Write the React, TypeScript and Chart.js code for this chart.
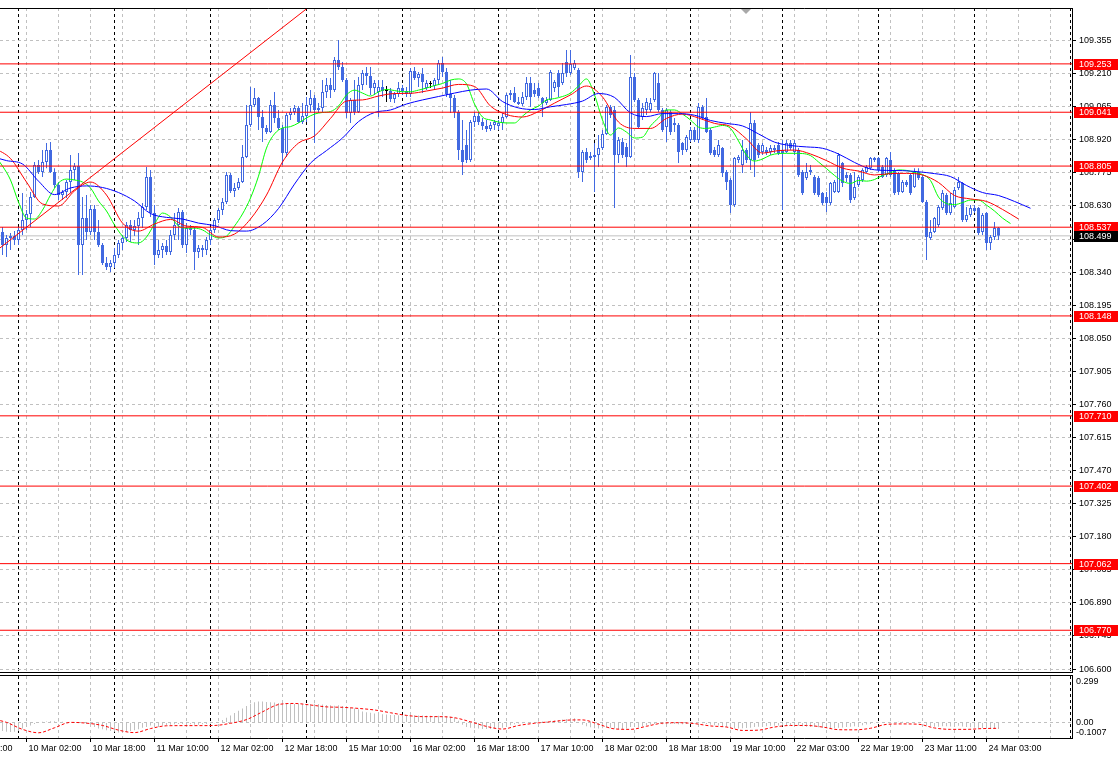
import React, { useEffect, useRef } from 'react';
import { Chart, registerables } from 'chart.js';

Chart.register(...registerables);

// ---------- time axis (H1 candles, index 0 = 9 Mar 20:00) ----------
const timeTickIdx = [-10, 6, 22, 38, 54, 70, 86, 102, 118, 134, 150, 166, 182, 198, 214, 230, 246];
const timeTickLabels = [
  '9 Mar 10:00', '10 Mar 02:00', '10 Mar 18:00', '11 Mar 10:00', '12 Mar 02:00', '12 Mar 18:00',
  '15 Mar 10:00', '16 Mar 02:00', '16 Mar 18:00', '17 Mar 10:00', '18 Mar 02:00', '18 Mar 18:00',
  '19 Mar 10:00', '22 Mar 03:00', '22 Mar 19:00', '23 Mar 11:00', '24 Mar 03:00',
];
const daySeparatorIdx = [4, 28, 52, 76, 100, 124, 148, 172, 195, 219, 243, 267];

// ---------- price axis ----------
const priceTicks = [
  106.6, 106.745, 106.89, 107.035, 107.18, 107.325, 107.47, 107.615, 107.76, 107.905,
  108.05, 108.195, 108.34, 108.485, 108.63, 108.775, 108.92, 109.065, 109.21, 109.355,
];
const levelPrices = [109.253, 109.041, 108.805, 108.537, 108.148, 107.71, 107.402, 107.062, 106.77];
const bidPrice = 108.499;
const trendIdx = [-1, 80];
const trendPrice = [108.441, 109.549];

// ---------- candles ----------
const openP = [
  108.516, 108.459, 108.490, 108.498, 108.481, 108.525, 108.569, 108.595, 108.669, 108.810,
  108.779, 108.823, 108.875, 108.779, 108.722, 108.678, 108.691, 108.735, 108.788, 108.805,
  108.459, 108.577, 108.516, 108.617, 108.516, 108.459, 108.380, 108.363, 108.380, 108.415,
  108.468, 108.490, 108.547, 108.525, 108.542, 108.577, 108.626, 108.757, 108.599, 108.415,
  108.437, 108.455, 108.428, 108.503, 108.547, 108.604, 108.459, 108.533, 108.525, 108.428,
  108.446, 108.437, 108.481, 108.525, 108.569, 108.612, 108.647, 108.766, 108.696, 108.709,
  108.735, 108.845, 108.985, 109.073, 109.103, 109.020, 108.972, 108.954, 109.073, 109.016,
  108.972, 108.862, 109.029, 109.042, 109.060, 108.998, 109.024, 109.073, 109.103, 109.051,
  109.060, 109.130, 109.160, 109.138, 109.270, 109.239, 109.182, 109.038, 109.095, 109.042,
  109.160, 109.213, 109.200, 109.147, 109.130, 109.152, 109.134, 109.134, 109.099, 109.121,
  109.147, 109.134, 109.121, 109.222, 109.191, 109.209, 109.147, 109.165, 109.156, 109.182,
  109.257, 109.217, 109.121, 109.103, 109.042, 108.875, 108.897, 108.832, 108.998, 109.024,
  108.998, 108.981, 108.967, 108.985, 108.981, 108.994, 109.020, 109.117, 109.125, 109.086,
  109.077, 109.108, 109.169, 109.138, 109.147, 109.103, 109.081, 109.095, 109.147, 109.213,
  109.169, 109.261, 109.213, 109.235, 109.226, 108.779, 108.867, 108.840, 108.845, 108.853,
  108.884, 108.946, 109.064, 109.051, 108.853, 108.910, 108.889, 108.845, 109.195, 109.095,
  109.020, 109.051, 109.051, 109.095, 109.169, 109.051, 108.976, 109.042, 108.994, 108.985,
  108.906, 108.875, 108.919, 108.963, 108.919, 109.064, 109.020, 108.963, 108.875, 108.853,
  108.884, 108.779, 108.744, 108.634, 108.832, 108.810, 108.875, 108.832, 108.994, 108.897,
  108.867, 108.875, 108.867, 108.875, 108.897, 108.875, 108.867, 108.906, 108.867, 108.875,
  108.779, 108.753, 108.779, 108.757, 108.753, 108.687, 108.669, 108.643, 108.691, 108.691,
  108.818, 108.766, 108.766, 108.665, 108.722, 108.744, 108.779, 108.796, 108.840, 108.840,
  108.801, 108.766, 108.832, 108.788, 108.775, 108.691, 108.735, 108.766, 108.713, 108.779,
  108.757, 108.647, 108.490, 108.516, 108.547, 108.621, 108.678, 108.599, 108.626, 108.709,
  108.731, 108.569, 108.590, 108.621, 108.621, 108.516, 108.599, 108.468, 108.494, 108.533,
];
const highP = [
  108.538, 108.503, 108.512, 108.520, 108.538, 108.687, 108.612, 108.691, 108.823, 108.832,
  108.875, 108.906, 108.910, 108.796, 108.735, 108.700, 108.744, 108.853, 108.818, 108.862,
  108.669, 108.678, 108.634, 108.634, 108.569, 108.468, 108.406, 108.393, 108.446, 108.481,
  108.503, 108.560, 108.569, 108.569, 108.604, 108.643, 108.801, 108.788, 108.634, 108.481,
  108.468, 108.481, 108.525, 108.599, 108.621, 108.612, 108.555, 108.547, 108.538, 108.459,
  108.459, 108.494, 108.538, 108.577, 108.621, 108.665, 108.779, 108.775, 108.731, 108.753,
  108.897, 109.073, 109.152, 109.147, 109.108, 109.051, 108.985, 109.095, 109.130, 109.051,
  108.985, 109.038, 109.060, 109.073, 109.068, 109.081, 109.108, 109.138, 109.117, 109.081,
  109.182, 109.191, 109.191, 109.283, 109.358, 109.261, 109.191, 109.103, 109.182, 109.195,
  109.226, 109.239, 109.239, 109.182, 109.182, 109.182, 109.156, 109.147, 109.130, 109.174,
  109.160, 109.152, 109.235, 109.239, 109.217, 109.235, 109.182, 109.178, 109.191, 109.270,
  109.283, 109.235, 109.182, 109.117, 109.051, 109.007, 108.963, 109.007, 109.042, 109.042,
  109.016, 109.007, 108.998, 109.007, 109.007, 109.038, 109.125, 109.138, 109.152, 109.108,
  109.130, 109.195, 109.195, 109.169, 109.169, 109.108, 109.108, 109.226, 109.182, 109.226,
  109.257, 109.314, 109.314, 109.270, 109.235, 108.875, 108.884, 108.867, 108.906, 108.941,
  108.963, 109.073, 109.073, 109.068, 108.932, 108.928, 108.906, 109.292, 109.213, 109.103,
  109.081, 109.103, 109.103, 109.217, 109.213, 109.060, 109.060, 109.051, 109.016, 108.994,
  108.910, 108.941, 108.976, 108.976, 109.081, 109.073, 109.103, 108.972, 108.889, 108.919,
  108.889, 108.788, 108.753, 108.845, 108.853, 108.919, 108.884, 109.042, 109.007, 108.906,
  108.906, 108.889, 108.897, 108.897, 108.910, 108.919, 108.919, 108.919, 108.919, 108.884,
  108.788, 108.818, 108.810, 108.766, 108.761, 108.691, 108.691, 108.735, 108.744, 108.862,
  108.823, 108.779, 108.775, 108.779, 108.766, 108.796, 108.810, 108.845, 108.845, 108.845,
  108.810, 108.845, 108.867, 108.796, 108.779, 108.744, 108.744, 108.775, 108.796, 108.796,
  108.766, 108.656, 108.569, 108.582, 108.634, 108.700, 108.687, 108.687, 108.713, 108.757,
  108.735, 108.626, 108.634, 108.634, 108.626, 108.599, 108.604, 108.503, 108.560, 108.538,
];
const lowP = [
  108.415, 108.406, 108.437, 108.459, 108.459, 108.503, 108.525, 108.538, 108.665, 108.770,
  108.757, 108.796, 108.775, 108.709, 108.656, 108.656, 108.665, 108.687, 108.744, 108.327,
  108.327, 108.481, 108.503, 108.481, 108.450, 108.371, 108.349, 108.341, 108.358, 108.402,
  108.437, 108.472, 108.472, 108.498, 108.459, 108.533, 108.612, 108.582, 108.371, 108.402,
  108.402, 108.415, 108.415, 108.481, 108.481, 108.446, 108.424, 108.503, 108.349, 108.402,
  108.406, 108.415, 108.459, 108.512, 108.555, 108.590, 108.639, 108.687, 108.669, 108.700,
  108.731, 108.840, 108.976, 109.064, 108.963, 108.910, 108.946, 108.950, 108.994, 108.963,
  108.810, 108.845, 109.007, 109.029, 108.994, 108.989, 108.998, 109.042, 108.906, 109.038,
  109.042, 109.103, 109.103, 109.130, 109.226, 109.174, 109.016, 108.994, 109.029, 109.038,
  109.138, 109.160, 109.117, 109.117, 109.020, 109.108, 109.086, 109.086, 109.081, 109.108,
  109.117, 109.108, 109.108, 109.182, 109.152, 109.125, 109.138, 109.147, 109.138, 109.160,
  109.195, 109.108, 109.038, 109.016, 108.832, 108.766, 108.818, 108.823, 108.976, 108.985,
  108.963, 108.954, 108.959, 108.963, 108.963, 108.963, 109.016, 109.095, 109.081, 109.073,
  109.068, 109.095, 109.064, 109.108, 109.103, 109.020, 109.073, 109.090, 109.130, 109.108,
  109.160, 109.195, 109.204, 109.226, 108.753, 108.735, 108.818, 108.832, 108.691, 108.801,
  108.875, 108.941, 109.016, 108.621, 108.818, 108.840, 108.801, 108.840, 109.086, 108.972,
  109.007, 109.029, 109.042, 109.086, 109.042, 108.954, 108.910, 108.941, 108.954, 108.818,
  108.853, 108.867, 108.910, 108.910, 108.906, 109.007, 108.950, 108.853, 108.845, 108.845,
  108.757, 108.700, 108.599, 108.626, 108.818, 108.775, 108.818, 108.788, 108.757, 108.840,
  108.853, 108.853, 108.853, 108.862, 108.853, 108.612, 108.862, 108.875, 108.853, 108.757,
  108.678, 108.744, 108.766, 108.678, 108.669, 108.634, 108.604, 108.634, 108.687, 108.687,
  108.713, 108.735, 108.643, 108.656, 108.713, 108.735, 108.775, 108.788, 108.823, 108.779,
  108.753, 108.757, 108.757, 108.678, 108.678, 108.687, 108.713, 108.678, 108.709, 108.744,
  108.643, 108.393, 108.481, 108.512, 108.538, 108.612, 108.590, 108.590, 108.621, 108.700,
  108.560, 108.560, 108.582, 108.599, 108.503, 108.503, 108.437, 108.437, 108.481, 108.481,
];
const closeP = [
  108.459, 108.490, 108.498, 108.481, 108.525, 108.569, 108.595, 108.669, 108.810, 108.779,
  108.823, 108.875, 108.779, 108.722, 108.678, 108.691, 108.735, 108.788, 108.805, 108.459,
  108.577, 108.516, 108.617, 108.516, 108.459, 108.380, 108.363, 108.380, 108.415, 108.468,
  108.490, 108.547, 108.525, 108.542, 108.577, 108.626, 108.757, 108.599, 108.415, 108.437,
  108.455, 108.428, 108.503, 108.547, 108.604, 108.459, 108.533, 108.525, 108.428, 108.446,
  108.437, 108.481, 108.525, 108.569, 108.612, 108.647, 108.766, 108.696, 108.709, 108.735,
  108.845, 108.985, 109.073, 109.103, 109.020, 108.972, 108.954, 109.073, 109.016, 108.972,
  108.862, 109.029, 109.042, 109.060, 108.998, 109.024, 109.073, 109.103, 109.051, 109.060,
  109.130, 109.160, 109.138, 109.270, 109.239, 109.182, 109.038, 109.095, 109.042, 109.160,
  109.213, 109.200, 109.147, 109.169, 109.152, 109.134, 109.134, 109.099, 109.121, 109.147,
  109.134, 109.121, 109.222, 109.191, 109.209, 109.174, 109.169, 109.165, 109.182, 109.257,
  109.217, 109.121, 109.103, 109.042, 108.875, 108.823, 108.832, 108.998, 109.024, 108.998,
  108.981, 108.967, 108.985, 108.998, 108.994, 109.020, 109.117, 109.125, 109.086, 109.077,
  109.108, 109.169, 109.108, 109.121, 109.112, 109.081, 109.095, 109.217, 109.174, 109.152,
  109.213, 109.213, 109.252, 109.257, 108.779, 108.867, 108.832, 108.849, 108.853, 108.884,
  108.946, 109.064, 109.029, 108.853, 108.919, 108.853, 108.845, 109.195, 109.095, 108.976,
  109.060, 109.086, 109.081, 109.213, 109.051, 108.963, 109.051, 108.954, 108.985, 108.867,
  108.875, 108.932, 108.963, 108.919, 109.064, 109.016, 108.954, 108.862, 108.853, 108.897,
  108.775, 108.735, 108.634, 108.840, 108.845, 108.875, 108.832, 108.994, 108.832, 108.853,
  108.897, 108.862, 108.884, 108.884, 108.862, 108.862, 108.906, 108.884, 108.906, 108.766,
  108.687, 108.779, 108.788, 108.687, 108.678, 108.643, 108.643, 108.731, 108.735, 108.853,
  108.731, 108.753, 108.656, 108.713, 108.757, 108.788, 108.801, 108.840, 108.832, 108.788,
  108.757, 108.840, 108.766, 108.687, 108.691, 108.735, 108.722, 108.687, 108.779, 108.753,
  108.647, 108.494, 108.516, 108.577, 108.626, 108.687, 108.599, 108.643, 108.700, 108.735,
  108.569, 108.590, 108.621, 108.608, 108.512, 108.590, 108.468, 108.494, 108.533, 108.499,
];

// ---------- Alligator lines (sampled; index = start + k * step) ----------
const lipsStart = -2;
const lipsStep = 2;
const lipsVals = [
  108.853, 108.805, 108.744, 108.647, 108.577, 108.573, 108.612, 108.678, 108.731, 108.748,
  108.744, 108.735, 108.709, 108.652, 108.608, 108.547, 108.498, 108.472, 108.468, 108.494,
  108.551, 108.599, 108.582, 108.542, 108.533, 108.533, 108.525, 108.503, 108.490, 108.498,
  108.542, 108.595, 108.665, 108.761, 108.884, 108.946, 108.972, 108.978, 108.994, 109.016,
  109.033, 109.040, 109.044, 109.068, 109.117, 109.138, 109.125, 109.112, 109.130, 109.141,
  109.136, 109.131, 109.131, 109.138, 109.147, 109.158, 109.167, 109.182, 109.187, 109.165,
  109.077, 109.020, 109.007, 108.998, 108.994, 108.994, 109.024, 109.051, 109.068, 109.095,
  109.101, 109.110, 109.125, 109.156, 109.187, 109.117, 109.007, 108.941, 108.972, 108.954,
  108.928, 108.932, 108.981, 109.016, 109.051, 109.051, 109.033, 109.007, 108.976, 108.970,
  108.976, 108.983, 108.970, 108.915, 108.853, 108.827, 108.836, 108.853, 108.860, 108.861,
  108.861, 108.860, 108.851, 108.823, 108.794, 108.764, 108.739, 108.729, 108.742, 108.739,
  108.746, 108.764, 108.775, 108.788, 108.786, 108.777, 108.768, 108.742, 108.669, 108.641,
  108.636, 108.645, 108.656, 108.656, 108.634, 108.608, 108.577, 108.553,
];
const teethStart = -2;
const teethStep = 4;
const teethVals = [
  108.884, 108.838, 108.735, 108.639, 108.630, 108.696, 108.735, 108.678, 108.555, 108.520,
  108.551, 108.571, 108.542, 108.536, 108.494, 108.507, 108.573, 108.678, 108.823, 108.906,
  108.937, 109.014, 109.090, 109.095, 109.112, 109.123, 109.124, 109.134, 109.147, 109.163,
  109.154, 109.068, 109.031, 109.020, 109.044, 109.081, 109.117, 109.156, 109.108, 108.998,
  108.970, 108.970, 109.014, 109.033, 109.016, 108.992, 108.979, 108.924, 108.862, 108.873,
  108.875, 108.858, 108.829, 108.796, 108.783, 108.766, 108.772, 108.773, 108.766, 108.733,
  108.676, 108.661, 108.650, 108.615, 108.573,
];
const jawStart = -3;
const jawStep = 4;
const jawVals = [
  108.849, 108.829, 108.814, 108.739, 108.680, 108.709, 108.718, 108.711, 108.689, 108.652,
  108.597, 108.580, 108.573, 108.555, 108.544, 108.522, 108.520, 108.549, 108.619, 108.726,
  108.818, 108.873, 108.928, 109.000, 109.040, 109.051, 109.077, 109.095, 109.110, 109.125,
  109.138, 109.143, 109.088, 109.060, 109.053, 109.065, 109.075, 109.090, 109.123, 109.106,
  109.038, 109.022, 109.035, 109.035, 109.028, 109.005, 108.992, 108.981, 108.946, 108.910,
  108.895, 108.889, 108.883, 108.858, 108.821, 108.792, 108.786, 108.785, 108.780, 108.772,
  108.759, 108.720, 108.689, 108.676, 108.650, 108.620,
];

// ---------- MACD ----------
const macdHist = [
  -0.055, -0.06, -0.062, -0.06, -0.055, -0.04, -0.03, -0.02, -0.01, 0.0,
  0.004, 0.006, 0.008, 0.008, 0.006, 0.004, 0.002, 0.0, -0.002, 0.0,
  0.002, -0.01, -0.02, -0.03, -0.04, -0.045, -0.05, -0.055, -0.06, -0.065,
  -0.065, -0.06, -0.055, -0.05, -0.045, -0.035, -0.03, -0.02, -0.025, -0.03,
  -0.02, -0.018, -0.015, -0.012, -0.01, -0.01, -0.01, -0.012, -0.015, -0.015,
  -0.012, -0.01, -0.008, -0.005, 0.0, 0.015, 0.03, 0.045, 0.06, 0.075,
  0.09, 0.105, 0.12, 0.13, 0.135, 0.135, 0.132, 0.13, 0.128, 0.125,
  0.122, 0.12, 0.12, 0.118, 0.118, 0.115, 0.115, 0.118, 0.12, 0.118,
  0.115, 0.112, 0.11, 0.108, 0.11, 0.105, 0.1, 0.095, 0.09, 0.085,
  0.07, 0.066, 0.062, 0.058, 0.055, 0.052, 0.05, 0.048, 0.047, 0.046,
  0.045, 0.044, 0.046, 0.046, 0.045, 0.044, 0.043, 0.042, 0.041, 0.042,
  0.043, 0.04, 0.036, 0.03, 0.01, -0.015, -0.03, -0.035, -0.038, -0.04,
  -0.042, -0.043, -0.042, -0.04, -0.038, -0.035, -0.025, -0.018, -0.012, -0.008,
  -0.005, 0.0, 0.0, 0.002, 0.005, 0.006, 0.005, 0.01, 0.012, 0.014,
  0.018, 0.022, 0.025, 0.026, 0.0, -0.015, -0.025, -0.032, -0.038, -0.04,
  -0.038, -0.035, -0.035, -0.04, -0.042, -0.042, -0.04, -0.03, -0.028, -0.03,
  -0.025, -0.02, -0.015, -0.01, -0.01, -0.012, -0.012, -0.01, -0.01, -0.012,
  -0.012, -0.01, -0.008, -0.008, -0.005, -0.005, -0.01, -0.015, -0.018, -0.02,
  -0.025, -0.03, -0.038, -0.04, -0.04, -0.038, -0.036, -0.035, -0.03, -0.028,
  -0.026, -0.025, -0.022, -0.022, -0.02, -0.02, -0.02, -0.018, -0.018, -0.02,
  -0.025, -0.028, -0.03, -0.03, -0.032, -0.035, -0.036, -0.038, -0.036, -0.035,
  -0.033, -0.03, -0.028, -0.025, -0.022, -0.018, -0.014, -0.01, -0.006, -0.004,
  -0.002, 0.0, 0.002, 0.003, 0.004, 0.004, 0.003, 0.002, 0.002, 0.0,
  -0.004, -0.018, -0.025, -0.028, -0.028, -0.025, -0.025, -0.026, -0.025, -0.022,
  -0.026, -0.03, -0.032, -0.034, -0.036, -0.036, -0.04, -0.042, -0.042, -0.04,
];
const signalStart = -3;
const signalStep = 4;
const signalVals = [
  0.025, 0.0, -0.045, -0.067, -0.035, 0.0, -0.005, -0.02, -0.05, -0.066,
  -0.04, -0.022, -0.021, -0.021, -0.02, -0.006, 0.018, 0.068, 0.115, 0.122,
  0.112, 0.1, 0.097, 0.09, 0.08, 0.062, 0.045, 0.037, 0.037, 0.03,
  0.004, -0.026, -0.043, -0.02, -0.006, 0.004, 0.014, 0.016, -0.012, -0.042,
  -0.045, -0.025, -0.005, -0.002, -0.008, -0.023, -0.03, -0.052, -0.05, -0.03,
  -0.02, -0.02, -0.03, -0.047, -0.048, -0.038, -0.013, -0.01, -0.012, -0.036,
  -0.045, -0.045, -0.04, -0.038,
];
const oscLabelValues = [0.299, 0, -0.1007];
const oscLabelTexts = ['0.299', '0.00', '-0.1007'];
const oscMax = 0.299;
const oscMin = -0.1007;

// ---------- styling ----------
const FONT = 'Liberation Sans';
const BLUE = '#4169e1';
const GRID = '#c0c0c0';
const X_MIN = -0.625;
const X_MAX = 267.375;
const Y_MIN = 106.587;
const Y_MAX = 109.498;
const gridIdx = Array.from({ length: 33 }, (_, k) => 6 + 8 * k);

Chart.defaults.font.family = FONT;

const sampled = (start: number, step: number, vals: number[]) =>
  vals.map((v, k) => ({ x: start + k * step, y: v }));

const zeroPad = (s: any) => {
  s.paddingLeft = 0; s.paddingRight = 0; s.paddingTop = 0; s.paddingBottom = 0;
};

const gridAxis = (ticks: number[], color: string) => ({
  type: 'linear', min: X_MIN, max: X_MAX, offset: false, position: 'bottom',
  grid: { color, lineWidth: 1, drawTicks: false, offset: false },
  border: { display: false, dash: [3, 3] },
  ticks: { display: false },
  afterBuildTicks: (s: any) => { s.ticks = ticks.map((v) => ({ value: v })); },
  afterFit: (s: any) => { s.height = 0; zeroPad(s); },
});

const mainDecor = {
  id: 'mainDecor',
  afterDraw(chart: any) {
    const { ctx, chartArea: a } = chart;
    const ys = chart.scales.y;
    ctx.save();
    ctx.strokeStyle = '#000';
    ctx.lineWidth = 1;
    ctx.beginPath();
    ctx.moveTo(0, a.top + 0.5); ctx.lineTo(a.right + 1, a.top + 0.5);
    ctx.moveTo(a.right + 0.5, a.top); ctx.lineTo(a.right + 0.5, a.bottom + 1);
    ctx.moveTo(0, a.bottom + 0.5); ctx.lineTo(a.right + 1, a.bottom + 0.5);
    ctx.stroke();
    // chart shift marker
    ctx.fillStyle = '#a8a8a8';
    ctx.beginPath();
    ctx.moveTo(741, a.top + 1); ctx.lineTo(751, a.top + 1); ctx.lineTo(746, a.top + 6);
    ctx.closePath(); ctx.fill();
    // price labels for levels
    ctx.font = `9px "${FONT}"`;
    ctx.textBaseline = 'middle';
    ctx.textAlign = 'left';
    const box = (v: number, bg: string) => {
      const py = Math.round(ys.getPixelForValue(v));
      ctx.fillStyle = bg;
      ctx.fillRect(a.right + 2, py - 5, 44, 11);
      ctx.fillStyle = '#ffffff';
      ctx.fillText(v.toFixed(3), a.right + 7, py + 0.5);
    };
    levelPrices.forEach((v) => box(v, '#ff0000'));
    box(bidPrice, '#000000');
    ctx.restore();
  },
};

const oscDecor = {
  id: 'oscDecor',
  afterDraw(chart: any) {
    const { ctx, chartArea: a } = chart;
    const ys = chart.scales.y;
    ctx.save();
    ctx.strokeStyle = '#000';
    ctx.lineWidth = 1;
    ctx.beginPath();
    ctx.moveTo(0, a.top - 0.5); ctx.lineTo(a.right + 1, a.top - 0.5);
    ctx.moveTo(0, a.bottom + 0.5); ctx.lineTo(a.right + 1, a.bottom + 0.5);
    ctx.moveTo(a.right + 0.5, a.top - 1); ctx.lineTo(a.right + 0.5, a.bottom + 1);
    ctx.stroke();
    ctx.font = `9px "${FONT}"`;
    ctx.fillStyle = '#000';
    ctx.textBaseline = 'middle';
    ctx.textAlign = 'left';
    const offsets = [6, 0, -5.5];
    oscLabelValues.forEach((v, k) => {
      ctx.fillText(oscLabelTexts[k], a.right + 4, ys.getPixelForValue(v) + offsets[k]);
    });
    ctx.restore();
  },
};

function mainConfig(): any {
  const idx = openP.map((_, i) => i);
  const doji = (i: number) => openP[i] === closeP[i];
  const edge = idx.map((i) => (doji(i) ? '#000000' : BLUE));
  const fill = idx.map((i) => (doji(i) ? '#000000' : closeP[i] > openP[i] ? '#ffffff' : BLUE));
  const line = (data: any[], color: string, order: number, extra: any = {}) => ({
    type: 'line', data, borderColor: color, borderWidth: 1, pointRadius: 0, fill: false, order, ...extra,
  });
  const datasets: any[] = [
    line([{ x: X_MIN - 1, y: bidPrice }, { x: X_MAX + 1, y: bidPrice }], GRID, 5),
    {
      type: 'bar', data: idx.map((i) => ({ x: i, y: [lowP[i], highP[i]] })),
      backgroundColor: edge, borderWidth: 0, barThickness: 1, maxBarThickness: 1,
      grouped: false, inflateAmount: 0, order: 4,
    },
    {
      type: 'bar', data: idx.map((i) => ({ x: i, y: [openP[i], closeP[i]] })),
      backgroundColor: fill, borderColor: edge, borderWidth: 1, borderSkipped: false,
      barThickness: 3, maxBarThickness: 3, grouped: false, inflateAmount: 0, minBarLength: 1, order: 3,
    },
    line(sampled(jawStart, jawStep, jawVals), '#0000ff', 2, { cubicInterpolationMode: 'monotone' }),
    line(sampled(teethStart, teethStep, teethVals), '#ff0000', 2, { cubicInterpolationMode: 'monotone' }),
    line(sampled(lipsStart, lipsStep, lipsVals), '#00ff00', 2, { cubicInterpolationMode: 'monotone' }),
    ...levelPrices.map((v) => line([{ x: X_MIN - 1, y: v }, { x: X_MAX + 1, y: v }], '#ff0000', 0)),
    line(trendIdx.map((x, k) => ({ x, y: trendPrice[k] })), '#ff0000', 0),
  ];
  return {
    type: 'bar',
    data: { datasets },
    plugins: [mainDecor],
    options: {
      responsive: false, maintainAspectRatio: false, animation: false, devicePixelRatio: 1,
      events: [],
      layout: { padding: { top: 8, bottom: 4, left: 0, right: 0 }, autoPadding: false },
      plugins: { legend: { display: false }, tooltip: { enabled: false } },
      scales: {
        x: gridAxis(gridIdx, GRID),
        xs: gridAxis(daySeparatorIdx, '#000000'),
        y: {
          type: 'linear', position: 'right', min: Y_MIN, max: Y_MAX,
          grid: { color: GRID, lineWidth: 1, drawTicks: true, tickLength: 4, tickColor: '#000', tickWidth: 1 },
          border: { display: false, dash: [3, 3] },
          ticks: {
            color: '#000', font: { family: FONT, size: 9 }, padding: 3, autoSkip: false,
            callback: (v: number) => v.toFixed(3),
          },
          afterBuildTicks: (s: any) => { s.ticks = priceTicks.map((v) => ({ value: v })); },
          afterFit: (s: any) => { s.width = 48; zeroPad(s); },
        },
      },
    },
  };
}

function oscConfig(): any {
  const idx = macdHist.map((_, i) => i);
  return {
    type: 'bar',
    data: {
      datasets: [
        {
          type: 'bar', data: idx.map((i) => ({ x: i, y: macdHist[i] })), backgroundColor: GRID,
          borderWidth: 0, barThickness: 1, maxBarThickness: 1, grouped: false, inflateAmount: 0, order: 2,
        },
        {
          type: 'line', data: sampled(signalStart, signalStep, signalVals), borderColor: '#ff0000',
          borderWidth: 1, borderDash: [3, 2], pointRadius: 0, fill: false, order: 1,
          cubicInterpolationMode: 'monotone',
        },
      ],
    },
    plugins: [oscDecor],
    options: {
      responsive: false, maintainAspectRatio: false, animation: false, devicePixelRatio: 1,
      events: [],
      layout: { padding: { top: 2, bottom: 0, left: 0, right: 0 }, autoPadding: false },
      plugins: { legend: { display: false }, tooltip: { enabled: false } },
      scales: {
        x: {
          type: 'linear', min: X_MIN, max: X_MAX, offset: false, position: 'bottom',
          grid: { drawOnChartArea: false, drawTicks: true, tickLength: 4, tickColor: '#000', offset: false },
          border: { display: false },
          ticks: {
            display: true, align: 'start', labelOffset: 2, padding: 1, color: '#000',
            font: { family: FONT, size: 9 }, autoSkip: false, maxRotation: 0, minRotation: 0,
            callback: (v: number) => {
              const k = timeTickIdx.indexOf(v);
              return k >= 0 ? timeTickLabels[k] : '';
            },
          },
          afterBuildTicks: (s: any) => { s.ticks = timeTickIdx.map((v) => ({ value: v })); },
          afterFit: (s: any) => { s.height = 20; zeroPad(s); },
        },
        xg: gridAxis(gridIdx, GRID),
        xs: gridAxis(daySeparatorIdx, '#000000'),
        y: {
          type: 'linear', position: 'right', min: oscMin, max: oscMax,
          grid: { color: GRID, lineWidth: 1, drawTicks: false },
          border: { display: false, dash: [3, 3] },
          ticks: { display: false },
          afterBuildTicks: (s: any) => { s.ticks = [{ value: 0 }]; },
          afterFit: (s: any) => { s.width = 48; zeroPad(s); },
        },
      },
    },
  };
}

export default function App() {
  const mainRef = useRef<HTMLCanvasElement>(null);
  const oscRef = useRef<HTMLCanvasElement>(null);
  useEffect(() => {
    const c1 = new Chart(mainRef.current as HTMLCanvasElement, mainConfig());
    const c2 = new Chart(oscRef.current as HTMLCanvasElement, oscConfig());
    return () => { c1.destroy(); c2.destroy(); };
  }, []);
  return (
    <div style={{ position: 'fixed', left: 0, top: 0, width: 1120, height: 758, background: '#ffffff', overflow: 'hidden' }}>
      <canvas ref={mainRef} width={1120} height={676} style={{ position: 'absolute', left: 0, top: 0 }} />
      <canvas ref={oscRef} width={1120} height={84} style={{ position: 'absolute', left: 0, top: 674 }} />
    </div>
  );
}
